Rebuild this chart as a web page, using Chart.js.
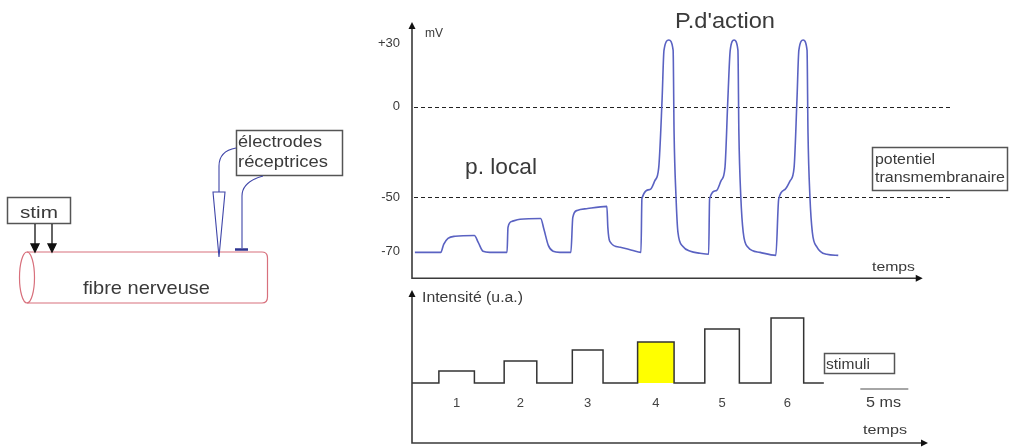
<!DOCTYPE html>
<html>
<head>
<meta charset="utf-8">
<script src="https://cdn.jsdelivr.net/npm/chart.js@4"></script>
<style>
  body { margin: 0; background: #fff; }
  #stage { position: relative; width: 1009px; height: 447px; overflow: hidden; font-family: 'Liberation Sans', Arial, sans-serif; }
  canvas { position: absolute; }
  #potChart { left: 360px; top: 0; }
  #stimChart { left: 360px; top: 285px; }
  svg { position: absolute; left: 0; top: 0; pointer-events: none; }
  svg text { font-family: 'Liberation Sans', Arial, sans-serif; fill: #3a3a3a; }
</style>
</head>
<body>
<div id="stage">
  <canvas id="potChart" width="649" height="290"></canvas>
  <canvas id="stimChart" width="649" height="162"></canvas>
  <svg width="1009" height="447">
    <!-- fibre nerveuse -->
    <g stroke="#d8707c" fill="none" stroke-width="1.2">
      <line x1="27" y1="252" x2="262" y2="252"/>
      <line x1="27" y1="303" x2="262" y2="303"/>
      <ellipse cx="27" cy="277.5" rx="7.5" ry="25.5"/>
      <path d="M262 252 Q267.5 252 267.5 258 L267.5 297 Q267.5 303 262 303"/>
    </g>
    <text x="83" y="294" font-size="19" textLength="127" lengthAdjust="spacingAndGlyphs">fibre nerveuse</text>

    <rect x="7.5" y="197.5" width="63" height="26" fill="none" stroke="#555" stroke-width="1.5"/>
    <text x="20" y="218" font-size="17" textLength="38" lengthAdjust="spacingAndGlyphs">stim</text>
    <g stroke="#111" stroke-width="1.3" fill="#111">
      <line x1="35" y1="224" x2="35" y2="246"/>
      <path d="M31 244 L39 244 L35 252 Z"/>
      <line x1="52" y1="224" x2="52" y2="246"/>
      <path d="M48 244 L56 244 L52 252 Z"/>
    </g>

    <rect x="236.5" y="130.5" width="106" height="45" fill="none" stroke="#555" stroke-width="1.5"/>
    <text x="238" y="147" font-size="16" textLength="84" lengthAdjust="spacingAndGlyphs">électrodes</text>
    <text x="238" y="167" font-size="16" textLength="90" lengthAdjust="spacingAndGlyphs">réceptrices</text>
    <g stroke="#3f45a8" stroke-width="1.1" fill="none">
      <path d="M236 148 C225 150 219 155 219 166 L219 192"/>
      <path d="M213 192 L225 192 L219 257 Z"/>
      <path d="M263 176 C249 180 242 186 242 196 L242 248"/>
    </g>
    <line x1="235" y1="249.5" x2="248" y2="249.5" stroke="#2e3490" stroke-width="2.5"/>

    <!-- annotations of the recording -->
    <text x="425" y="37" font-size="12" textLength="18" lengthAdjust="spacingAndGlyphs">mV</text>
    <text x="675" y="28" font-size="22" textLength="100" lengthAdjust="spacingAndGlyphs">P.d'action</text>
    <text x="465" y="174" font-size="22" textLength="72" lengthAdjust="spacingAndGlyphs">p. local</text>
    <rect x="872.5" y="147.5" width="135" height="43" fill="none" stroke="#555" stroke-width="1.5"/>
    <text x="875" y="164" font-size="14" textLength="60" lengthAdjust="spacingAndGlyphs">potentiel</text>
    <text x="875" y="182" font-size="14" textLength="130" lengthAdjust="spacingAndGlyphs">transmembranaire</text>
    <text x="872" y="271" font-size="13" textLength="43" lengthAdjust="spacingAndGlyphs">temps</text>

    <text x="422" y="302" font-size="14" textLength="101" lengthAdjust="spacingAndGlyphs">Intensité (u.a.)</text>
    <rect x="824.5" y="353.5" width="70" height="20" fill="none" stroke="#555" stroke-width="1.5"/>
    <text x="826" y="369" font-size="14" textLength="44" lengthAdjust="spacingAndGlyphs">stimuli</text>
    <text x="866" y="407" font-size="14" textLength="35" lengthAdjust="spacingAndGlyphs">5 ms</text>
    <text x="863" y="434" font-size="13" textLength="44" lengthAdjust="spacingAndGlyphs">temps</text>
  </svg>
</div>
<script>
// membrane potential (ms, mV)
const potTime = [
    0.3, 3.0, 3.3, 3.75, 4.5, 6.5, 6.9, 7.4, 8.1,
    9.9, 10.0, 10.4, 11.25, 13.4, 13.75, 14.2, 14.7, 15.4,
    16.55, 16.75, 17.2, 18.3, 20.3, 20.4, 20.6, 21.7, 22.9, 23.85,
    23.95, 24.8, 25.3, 25.7, 26.05, 26.25, 26.75, 27.2, 27.3, 27.5, 27.7, 28.2, 29.0, 30.0, 30.9,
    31.0, 31.7, 32.2, 32.6, 32.9, 33.15, 33.55, 33.95, 34.05, 34.25, 34.5, 35.0, 36.25, 37.9,
    38.2, 38.85, 39.4, 39.8, 40.1, 40.3, 40.75, 41.15, 41.25, 41.45, 41.7, 42.2, 43.2, 44.4
];
const potMv = [
    -70.4, -70.4, -67.4, -65.2, -64.4, -64.1, -66.7, -70, -70.4,
    -70.4, -61.1, -58.9, -58.1, -57.8, -61.9, -67.8, -70, -70.4,
    -70.4, -57.4, -54.8, -54.1, -53.3, -61.1, -66.3, -68.5, -69.6, -70.4,
    -50.4, -45.6, -40.7, -33.5, 3.3, 26.7, 31.4, 26.7, -14.3, -49.5, -62.9, -68.1, -70, -70.7, -71.1,
    -50.5, -46.2, -40.7, -33.5, 3.3, 26.7, 31.4, 26.7, -14.3, -49.5, -62.9, -68.5, -70.4, -71.5,
    -50.5, -45.6, -40.7, -33.5, 3.3, 26.7, 31.4, 26.7, -14.3, -49.5, -62.9, -68.5, -71.1, -71.5
];
const mvTicks = [-70, -50, 0, 30];
const dashedLevels = [0, -50];

// stimuli (ms, u.a.)
const stimLabels = ['1', '2', '3', '4', '5', '6'];
const stimStart = [2.8, 9.6, 16.7, 23.5, 30.5, 37.4];
const stimEnd = [6.5, 13.0, 19.9, 27.3, 34.1, 40.8];
const stimHeight = [1.2, 2.2, 3.3, 4.1, 5.4, 6.5];
const stimTraceEnd = 42.9;
const highlighted = 3;   // the 4th stimulus is the one shown in yellow
const scaleBarStart = 46.7;
const scaleBarMs = 5;

// the drawing's mV axis is not linear, so map value -> position piecewise
const axisValues = [-80, -70, -50, 0, 30, 40];
const axisDecimals = [0, 0.105, 0.315, 0.669, 0.918, 1];

function interp(v, xs, ys) {
    let i = 1;
    while (i < xs.length - 1 && v > xs[i]) i++;
    const t = (v - xs[i - 1]) / (xs[i] - xs[i - 1]);
    return ys[i - 1] + t * (ys[i] - ys[i - 1]);
}

class SchematicScale extends Chart.LinearScale {
    static id = 'schematic';
    static defaults = Chart.LinearScale.defaults;
    getPixelForValue(value) {
        return this.getPixelForDecimal(interp(value, axisValues, axisDecimals));
    }
    getValueForPixel(pixel) {
        return interp(this.getDecimalForPixel(pixel), axisDecimals, axisValues);
    }
}
Chart.register(SchematicScale);

const AXIS = '#3a3a3a';

function arrowAxes(xEndTime) {
    return {
        id: 'arrowAxes',
        afterDraw(chart) {
            const { ctx, chartArea: a } = chart;
            const xEnd = chart.scales.x.getPixelForValue(xEndTime);
            ctx.save();
            ctx.strokeStyle = AXIS;
            ctx.fillStyle = '#111';
            ctx.lineWidth = 1.6;
            ctx.beginPath();
            ctx.moveTo(a.left, a.top + 4);
            ctx.lineTo(a.left, a.bottom);
            ctx.lineTo(xEnd - 4, a.bottom);
            ctx.stroke();
            // arrow heads
            ctx.beginPath();
            ctx.moveTo(a.left, a.top);
            ctx.lineTo(a.left - 3.5, a.top + 7);
            ctx.lineTo(a.left + 3.5, a.top + 7);
            ctx.closePath();
            ctx.fill();
            ctx.beginPath();
            ctx.moveTo(xEnd, a.bottom);
            ctx.lineTo(xEnd - 7, a.bottom - 3.5);
            ctx.lineTo(xEnd - 7, a.bottom + 3.5);
            ctx.closePath();
            ctx.fill();
            ctx.restore();
        }
    };
}

const dashedLines = {
    id: 'dashedLines',
    beforeDatasetsDraw(chart) {
        const { ctx, chartArea: a, scales } = chart;
        ctx.save();
        ctx.strokeStyle = '#222';
        ctx.lineWidth = 1;
        ctx.setLineDash([4, 3]);
        dashedLevels.forEach(v => {
            const y = Math.round(scales.y.getPixelForValue(v)) + 0.5;
            ctx.beginPath();
            ctx.moveTo(a.left + 2, y);
            ctx.lineTo(a.right, y);
            ctx.stroke();
        });
        ctx.restore();
    }
};

const stimNumbers = {
    id: 'stimNumbers',
    afterDraw(chart) {
        const { ctx, scales } = chart;
        ctx.save();
        ctx.fillStyle = '#444';
        ctx.font = '13px "Liberation Sans", Arial, sans-serif';
        ctx.textAlign = 'center';
        ctx.textBaseline = 'middle';
        stimLabels.forEach((label, i) => {
            const x = scales.x.getPixelForValue((stimStart[i] + stimEnd[i]) / 2);
            ctx.fillText(label, x, scales.y.getPixelForValue(-2));
        });
        // 5 ms scale bar
        const y = scales.y.getPixelForValue(-0.6);
        ctx.strokeStyle = '#888';
        ctx.lineWidth = 1.5;
        ctx.beginPath();
        ctx.moveTo(scales.x.getPixelForValue(scaleBarStart), y);
        ctx.lineTo(scales.x.getPixelForValue(scaleBarStart + scaleBarMs), y);
        ctx.stroke();
        ctx.restore();
    }
};

// top: potential recording
new Chart(document.getElementById('potChart'), {
    type: 'line',
    data: {
        datasets: [{
            data: potTime.map((t, i) => ({ x: t, y: potMv[i] })),
            borderColor: '#5a62c2',
            borderWidth: 1.6,
            pointRadius: 0,
            cubicInterpolationMode: 'monotone',
            fill: false,
        }],
    },
    options: {
        responsive: false,
        animation: false,
        devicePixelRatio: 1,
        layout: { padding: { left: 0, top: 22, right: 57, bottom: 11 } },
        scales: {
            x: { type: 'linear', min: 0, max: 56.25, display: false },
            y: {
                type: 'schematic',
                min: -80,
                max: 40,
                grid: { display: false },
                border: { display: false },
                afterBuildTicks: axis => { axis.ticks = mvTicks.map(v => ({ value: v })); },
                afterFit: axis => { axis.width = 52; },
                ticks: {
                    padding: 4,
                    color: '#3a3a3a',
                    font: { family: '"Liberation Sans", Arial, sans-serif', size: 13 },
                    callback: v => (v > 0 ? '+' + v : '' + v),
                },
            },
        },
        plugins: { legend: { display: false }, tooltip: { enabled: false } },
    },
    plugins: [dashedLines, arrowAxes(53.2)],
});

// bottom: stimuli
const stepData = [{ x: 0, y: 0 }];
stimStart.forEach((s, i) => {
    stepData.push({ x: s, y: stimHeight[i] });
    stepData.push({ x: stimEnd[i], y: 0 });
});
stepData.push({ x: stimTraceEnd, y: 0 });

new Chart(document.getElementById('stimChart'), {
    type: 'line',
    data: {
        datasets: [
            {
                data: stepData,
                stepped: 'before',
                borderColor: '#333',
                borderWidth: 1.5,
                pointRadius: 0,
                fill: false,
            },
            {
                data: [
                    { x: stimStart[highlighted], y: stimHeight[highlighted] },
                    { x: stimEnd[highlighted], y: stimHeight[highlighted] },
                ],
                borderWidth: 0,
                pointRadius: 0,
                backgroundColor: '#ffff00',
                fill: 'origin',
            },
        ],
    },
    options: {
        responsive: false,
        animation: false,
        devicePixelRatio: 1,
        layout: { padding: { left: 52, top: 5, right: 57, bottom: 4 } },
        scales: {
            x: { type: 'linear', min: 0, max: 56.25, display: false },
            y: { type: 'linear', min: -6, max: 9.3, display: false },
        },
        plugins: { legend: { display: false }, tooltip: { enabled: false } },
    },
    plugins: [arrowAxes(53.75), stimNumbers],
});
</script>
</body>
</html>
